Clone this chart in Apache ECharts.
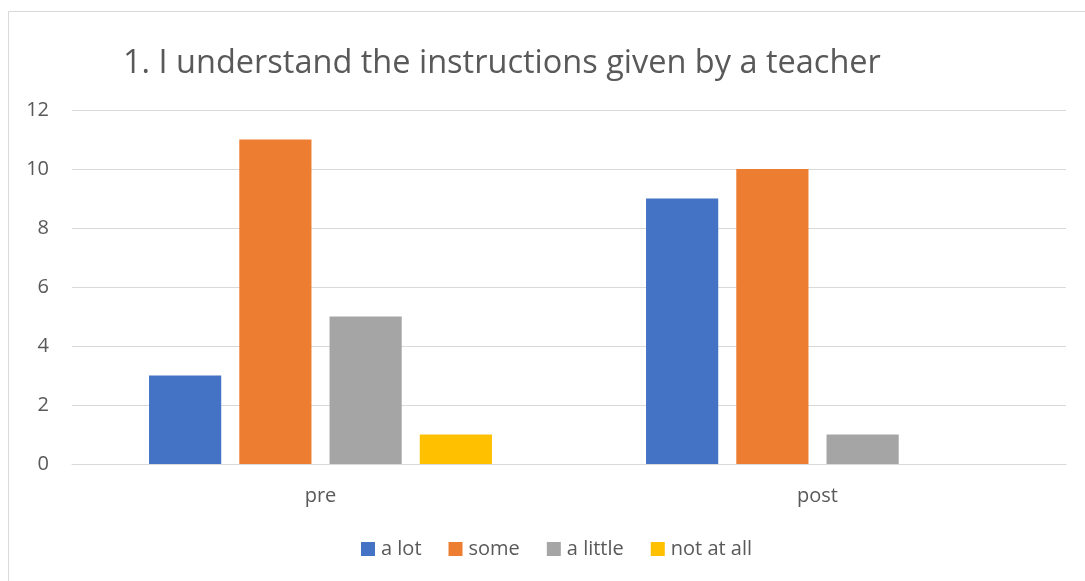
<!DOCTYPE html>
<html>
<head>
<meta charset="utf-8">
<script src="https://cdn.jsdelivr.net/npm/echarts@6/dist/echarts.min.js"></script>
<style>
  html, body { margin: 0; padding: 0; background: #fff; }
  #chart { width: 1085px; height: 581px; }
</style>
</head>
<body>
<div id="chart"></div>
<script>
  const categories = ['pre', 'post']
  const aLot = [3, 9]
  const some = [11, 10]
  const aLittle = [5, 1]
  const notAtAll = [1, 0]
  const yTicks = [0, 2, 4, 6, 8, 10, 12]

  const font = 'Open Sans'
  const textColor = '#595959'

  let chart = echarts.init(document.getElementById('chart'))

  function bar (name, data, color) {
    return {
      name: name,
      type: 'bar',
      data: data,
      barGap: '25%',
      barCategoryGap: '31%',
      itemStyle: { color: color },
      emphasis: { disabled: true }
    }
  }

  chart.setOption({
    animation: false,
    title: {
      text: '1. I understand the instructions given by a teacher',
      left: 118,
      top: 42,
      textStyle: {
        fontFamily: font,
        fontWeight: 'normal',
        fontSize: 32.5,
        color: textColor
      }
    },
    legend: {
      bottom: 17,
      left: 356,
      itemWidth: 14,
      itemHeight: 14,
      itemGap: 27,
      icon: 'rect',
      textStyle: { fontFamily: font, fontSize: 20, color: textColor, padding: [0, 0, 0, 1] },
      data: ['a lot', 'some', 'a little', 'not at all']
    },
    graphic: [{
      type: 'rect',
      shape: { x: 8.5, y: 11.5, width: 1200, height: 700 },
      style: { fill: 'none', stroke: '#d9d9d9', lineWidth: 1 },
      silent: true
    }],
    grid: { left: 72, right: 19, top: 110, bottom: 117 },
    xAxis: {
      type: 'category',
      data: categories,
      axisLine: { lineStyle: { color: '#d9d9d9' } },
      axisTick: { show: false },
      axisLabel: { fontFamily: font, fontSize: 20, color: textColor, margin: 22 }
    },
    yAxis: {
      type: 'value',
      min: yTicks[0],
      max: yTicks[yTicks.length - 1],
      interval: 2,
      axisLine: { show: false },
      axisTick: { show: false },
      splitLine: { lineStyle: { color: '#d9d9d9' } },
      axisLabel: { fontFamily: font, fontSize: 20, color: textColor, margin: 23 }
    },
    series: [
      bar('a lot', aLot, '#4472c4'),
      bar('some', some, '#ed7d31'),
      bar('a little', aLittle, '#a5a5a5'),
      bar('not at all', notAtAll, '#ffc000')
    ]
  })
</script>
</body>
</html>
